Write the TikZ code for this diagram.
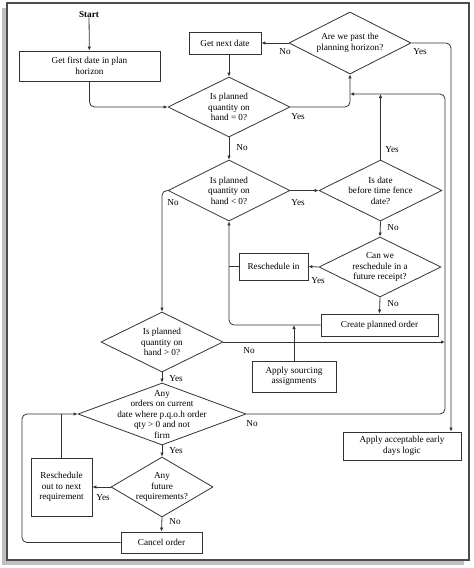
\documentclass[tikz,border=0pt]{standalone}
\usepackage{fontspec}
\setmainfont{Liberation Serif}
\usetikzlibrary{shapes.geometric, arrows.meta}

\begin{document}
\begin{tikzpicture}[x=1pt, y=1pt,
    every node/.style={font=\fontsize{9.2}{10.5}\selectfont, inner sep=0pt},
    box/.style={draw=black!80, line width=0.8pt, rectangle, align=center},
    dia/.style={draw=black!80, line width=0.8pt, diamond},
    arr/.style={draw=black!80, line width=0.8pt, -{Latex[length=4pt,width=3.5pt]}},
    ln/.style={draw=black!80, line width=0.8pt}]
        \useasboundingbox (0,0) rectangle (474,-568);
        % frame with shadow
        \fill [black!25] (2,-8) rectangle (464,-565);
        \draw [black!70, line width=1.2pt, fill=white] (7,-3) rectangle (469,-560);
        % nodes
        \node [font=\fontsize{9.2}{10.5}\selectfont\bfseries] (start) at (89,-14) {Start};
        \node [box, minimum width=141pt, minimum height=30pt] (first) at (89.5,-66) {Get first date in plan\\horizon};
        \node [box, minimum width=72pt, minimum height=22pt] (next) at (225,-43) {Get next date};
        \node [dia, minimum width=122pt, minimum height=62pt, label={[align=center]center:Are we past the\\planning horizon?}] (horizon) at (350,-43) {};
        \node [dia, minimum width=122pt, minimum height=60pt, label={[align=center]center:Is planned\\quantity on\\hand = 0?}] (d1) at (229,-107) {};
        \node [dia, minimum width=122pt, minimum height=61pt, label={[align=center]center:Is planned\\quantity on\\hand < 0?}] (d2) at (229,-190.5) {};
        \node [dia, minimum width=123pt, minimum height=61pt, label={[align=center]center:Is date\\before time fence\\date?}] (tf) at (380.5,-190.5) {};
        \node [dia, minimum width=122pt, minimum height=60pt, label={[align=center]center:Can we\\reschedule in a\\future receipt?}] (can) at (380,-267) {};
        \node [box, minimum width=69pt, minimum height=27pt] (resin) at (273.5,-266.5) {Reschedule in};
        \node [box, minimum width=117pt, minimum height=22pt] (co) at (379.5,-325) {Create planned order};
        \node [dia, minimum width=122pt, minimum height=60pt, label={[align=center]center:Is planned\\quantity on\\hand > 0?}] (d3) at (162,-342) {};
        \node [box, minimum width=84pt, minimum height=31pt] (src) at (294,-376.5) {Apply sourcing\\assignments};
        \node [dia, minimum width=168pt, minimum height=62pt, label={[align=center]center:Any\\orders on current\\date where p.q.o.h order\\qty > 0 and not\\firm}] (d4) at (162,-414) {};
        \node [dia, minimum width=102pt, minimum height=60pt, label={[align=center]center:Any\\future\\requirements?}] (d5) at (162,-487) {};
        \node [box, minimum width=61pt, minimum height=58pt] (resout) at (61.5,-487) {Reschedule\\out to next\\requirement};
        \node [box, minimum width=81pt, minimum height=21pt] (cancel) at (161.5,-542.5) {Cancel order};
        \node [box, minimum width=118pt, minimum height=28pt] (early) at (402,-446) {Apply acceptable early\\days logic};
        % turning points
        \coordinate (rt1) at (445,-94);
        \coordinate (rt2) at (451,-43);
        \coordinate (lt1) at (22,-414);
        \coordinate (merge) at (horizon.south |- rt1);
        % connectors
        \draw [arr] (start) -- (first);
        \draw [arr, rounded corners=5pt] (first.south) |- (d1.west);
        \draw [arr] (horizon.west) -- (next.east);
        \draw [arr] (d1.north |- next.south) -- (d1.north);
        \draw [arr, rounded corners=5pt] (d1.east) -| (horizon.south);
        \draw [arr, rounded corners=5pt] (horizon.east) -| (early.north -| rt2);
        \draw [arr] (d1.south) -- (d2.north);
        \draw [arr] (d2.east) -- (tf.west);
        \draw [arr] (tf.north) -- (tf.north |- rt1);
        \draw [arr] (tf.south) -- (can.north);
        \draw [arr] (can.west) -- (resin.east);
        \draw [ln] (resin.west) -- (resin.west -| d2.south);
        \draw [arr] (can.south) -- (co.north);
        \draw [arr, rounded corners=5pt] (co.west) -| (d2.south);
        \draw [arr] (src.north) -- (src.north |- co.west);
        \draw [arr, rounded corners=5pt] (d2.west) -| (d3.north);
        \draw [arr] (d3.east) -- (d3.east -| rt1);
        \draw [arr] (d3.south) -- (d4.north);
        \draw [arr, rounded corners=5pt] (d4.east) -| (rt1) -- (merge);
        \draw [arr] (d4.south) -- (d5.north);
        \draw [arr] (d5.west) -- (resout.east);
        \draw [ln] (resout.north) -- (resout.north |- d4.west);
        \draw [arr] (d5.south) -- (cancel.north);
        \draw [arr, rounded corners=5pt] (cancel.west) -| (lt1) -- (d4.west);
        % yes / no
        \node (n0) at (285,-52) {No};
        \node (y0) at (420,-52) {Yes};
        \node (y1) at (298,-117) {Yes};
        \node (n1) at (242,-148) {No};
        \node (y2) at (392,-150) {Yes};
        \node (n2) at (173,-203) {No};
        \node (y3) at (298,-203) {Yes};
        \node (n3) at (393,-228) {No};
        \node (y4) at (318,-281) {Yes};
        \node (n4) at (393,-304) {No};
        \node (n5) at (249,-351) {No};
        \node (y5) at (176,-379) {Yes};
        \node (n6) at (252,-424) {No};
        \node (y6) at (176,-451) {Yes};
        \node (y7) at (103,-498) {Yes};
        \node (n7) at (175,-522) {No};
\end{tikzpicture}
\end{document}
